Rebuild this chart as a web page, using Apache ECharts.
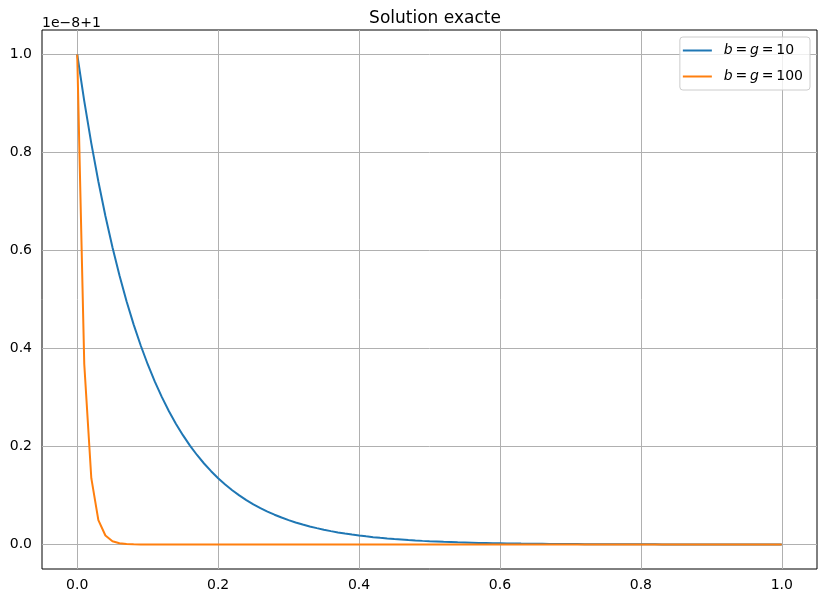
<!DOCTYPE html>
<html>
<head>
<meta charset="utf-8">
<script src="https://cdn.jsdelivr.net/npm/echarts@6/dist/echarts.min.js"></script>
<style>html,body{margin:0;padding:0;background:#fff}#c{width:826px;height:603px}</style>
</head>
<body>
<div id="c"></div>
<script>
const xValues = [0.00,0.01,0.02,0.03,0.04,0.05,0.06,0.07,0.08,0.09,0.10,0.11,0.12,0.13,0.14,0.15,0.16,0.17,0.18,0.19,0.20,0.21,0.22,0.23,0.24,0.25,0.26,0.27,0.28,0.29,0.30,0.31,0.32,0.33,0.34,0.35,0.36,0.37,0.38,0.39,0.40,0.41,0.42,0.43,0.44,0.45,0.46,0.47,0.48,0.49,0.50,0.51,0.52,0.53,0.54,0.55,0.56,0.57,0.58,0.59,0.60,0.61,0.62,0.63,0.64,0.65,0.66,0.67,0.68,0.69,0.70,0.71,0.72,0.73,0.74,0.75,0.76,0.77,0.78,0.79,0.80,0.81,0.82,0.83,0.84,0.85,0.86,0.87,0.88,0.89,0.90,0.91,0.92,0.93,0.94,0.95,0.96,0.97,0.98,0.99,1.00];
const series10 = [1.0000,0.9048,0.8187,0.7408,0.6703,0.6065,0.5488,0.4966,0.4493,0.4066,0.3679,0.3329,0.3012,0.2725,0.2466,0.2231,0.2019,0.1827,0.1653,0.1496,0.1353,0.1225,0.1108,0.1003,0.0907,0.0821,0.0743,0.0672,0.0608,0.0550,0.0498,0.0450,0.0408,0.0369,0.0334,0.0302,0.0273,0.0247,0.0224,0.0202,0.0183,0.0166,0.0150,0.0136,0.0123,0.0111,0.0101,0.0091,0.0082,0.0074,0.0067,0.0061,0.0055,0.0050,0.0045,0.0041,0.0037,0.0033,0.0030,0.0027,0.0025,0.0022,0.0020,0.0018,0.0017,0.0015,0.0014,0.0012,0.0011,0.0010,0.0009,0.0008,0.0007,0.0007,0.0006,0.0006,0.0005,0.0005,0.0004,0.0004,0.0003,0.0003,0.0003,0.0002,0.0002,0.0002,0.0002,0.0002,0.0002,0.0001,0.0001,0.0001,0.0001,0.0001,0.0001,0.0001,0.0001,0.0001,0.0000,0.0000,0.0000];
const series100 = [1.0000,0.3679,0.1353,0.0498,0.0183,0.0067,0.0025,0.0009,0.0003,0.0001,0.0000,0.0000,0.0000,0.0000,0.0000,0.0000,0.0000,0.0000,0.0000,0.0000,0.0000,0.0000,0.0000,0.0000,0.0000,0.0000,0.0000,0.0000,0.0000,0.0000,0.0000,0.0000,0.0000,0.0000,0.0000,0.0000,0.0000,0.0000,0.0000,0.0000,0.0000,0.0000,0.0000,0.0000,0.0000,0.0000,0.0000,0.0000,0.0000,0.0000,0.0000,0.0000,0.0000,0.0000,0.0000,0.0000,0.0000,0.0000,0.0000,0.0000,0.0000,0.0000,0.0000,0.0000,0.0000,0.0000,0.0000,0.0000,0.0000,0.0000,0.0000,0.0000,0.0000,0.0000,0.0000,0.0000,0.0000,0.0000,0.0000,0.0000,0.0000,0.0000,0.0000,0.0000,0.0000,0.0000,0.0000,0.0000,0.0000,0.0000,0.0000,0.0000,0.0000,0.0000,0.0000,0.0000,0.0000,0.0000,0.0000,0.0000,0.0000];
const xTicks = [0, 0.2, 0.4, 0.6, 0.8, 1.0];
const yTicks = [0, 0.2, 0.4, 0.6, 0.8, 1.0];
const seriesNames = ['b = g = 10', 'b = g = 100'];

const FONT = 'DejaVu Sans';
const chart = echarts.init(document.getElementById('c'), null, {renderer: 'canvas'});
const pairs = (ys) => xValues.map((x, i) => [x, ys[i]]);
const gridMarks = xTicks.map(v => ({xAxis: v})).concat(yTicks.map(v => ({yAxis: v})));

chart.setOption({
  animation: false,
  backgroundColor: '#fff',
  textStyle: {fontFamily: FONT},
  title: [
    {text: 'Solution exacte', left: 430, top: 5, textAlign: 'center',
     textStyle: {fontFamily: FONT, fontSize: 17, fontWeight: 'normal', color: '#000'}},
    {text: '1e\u22128+1', left: 37, top: 11,
     textStyle: {fontFamily: FONT, fontSize: 14, fontWeight: 'normal', color: '#000'}}
  ],
  grid: {left: 42, right: 9, top: 30, bottom: 34, show: true, borderColor: '#000', borderWidth: 1, backgroundColor: 'transparent'},
  legend: {
    data: seriesNames,
    orient: 'vertical', right: 16, top: 37,
    padding: [6, 7, 6, 3],
    itemGap: 11, itemWidth: 29, itemHeight: 2,
    icon: 'rect',
    backgroundColor: 'rgba(255,255,255,0.8)',
    borderColor: '#cccccc', borderWidth: 1, borderRadius: 3,
    formatter: function (name) {
      const num = name.split('= ').pop();
      return '{i|b}{n|\u2009=\u2009}{i|g}{n|\u2009=\u2009' + num + '}';
    },
    textStyle: {
      fontFamily: FONT, fontSize: 14, color: '#000', padding: [0, 0, 0, 7], lineHeight: 15,
      rich: {
        i: {fontFamily: FONT, fontStyle: 'italic', fontSize: 14, color: '#000', lineHeight: 15},
        n: {fontFamily: FONT, fontSize: 14, color: '#000', lineHeight: 15}
      }
    }
  },
  xAxis: {
    type: 'value', min: -0.05, max: 1.05,
    splitLine: {show: false},
    axisLine: {show: false},
    axisTick: {show: true, customValues: xTicks, length: 5, lineStyle: {color: '#000', width: 1}},
    axisLabel: {customValues: xTicks, margin: 9, color: '#000', fontSize: 14, fontFamily: FONT,
      formatter: v => v.toFixed(1)}
  },
  yAxis: {
    type: 'value', min: -0.05, max: 1.05,
    splitLine: {show: false},
    axisLine: {show: false},
    axisTick: {show: true, customValues: yTicks, length: 5, lineStyle: {color: '#000', width: 1}},
    axisLabel: {customValues: yTicks, margin: 10, color: '#000', fontSize: 14, fontFamily: FONT,
      formatter: v => v.toFixed(1)}
  },
  series: [
    {
      name: '_grid', type: 'line', data: [], z: 1, silent: true,
      markLine: {
        silent: true, symbol: ['none', 'none'], animation: false, z: 1,
        label: {show: false},
        lineStyle: {color: '#b0b0b0', width: 1, type: 'solid'},
        emphasis: {disabled: true},
        data: gridMarks
      }
    },
    {name: seriesNames[0], type: 'line', data: pairs(series10), showSymbol: false, symbol: 'none', z: 10,
     lineStyle: {color: '#1f77b4', width: 2}, itemStyle: {color: '#1f77b4'}},
    {name: seriesNames[1], type: 'line', data: pairs(series100), showSymbol: false, symbol: 'none', z: 11,
     lineStyle: {color: '#ff7f0e', width: 2}, itemStyle: {color: '#ff7f0e'}}
  ]
});
</script>
</body>
</html>
